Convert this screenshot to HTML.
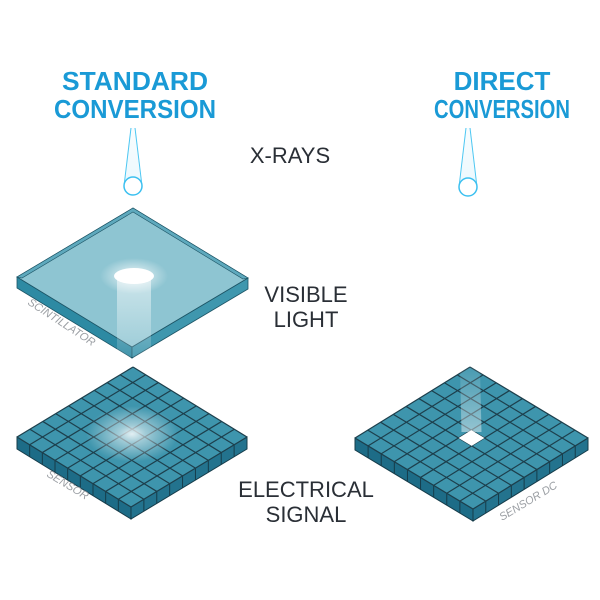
<!DOCTYPE html>
<html><head><style>
body{margin:0;background:#fff;width:600px;height:600px;overflow:hidden}
svg{display:block}
</style></head><body>
<svg id="s" width="600" height="600" xmlns="http://www.w3.org/2000/svg" font-family="Liberation Sans, sans-serif">
<defs>
<radialGradient id="glow" cx="0.5" cy="0.5" r="0.5">
<stop offset="0" stop-color="#fff" stop-opacity="1"/>
<stop offset="0.3" stop-color="#fff" stop-opacity="0.6"/>
<stop offset="1" stop-color="#fff" stop-opacity="0"/>
</radialGradient>
<linearGradient id="col" x1="0" y1="0" x2="0" y2="1">
<stop offset="0" stop-color="#fff" stop-opacity="0.55"/>
<stop offset="1" stop-color="#fff" stop-opacity="0.1"/>
</linearGradient>
<linearGradient id="col2" x1="0" y1="0" x2="0" y2="1">
<stop offset="0" stop-color="#fff" stop-opacity="0.05"/>
<stop offset="1" stop-color="#fff" stop-opacity="0.45"/>
</linearGradient>
<linearGradient id="cone" x1="0" y1="0" x2="0" y2="1">
<stop offset="0" stop-color="#bfe9fb" stop-opacity="0.3"/>
<stop offset="1" stop-color="#bfe9fb" stop-opacity="0.9"/>
</linearGradient>
</defs>
<g font-weight="bold" fill="#1a9ad6" font-size="26" text-anchor="middle">
<text x="135" y="90" textLength="146" lengthAdjust="spacingAndGlyphs">STANDARD</text>
<text x="135" y="118" textLength="162" lengthAdjust="spacingAndGlyphs">CONVERSION</text>
<text x="502" y="90">DIRECT</text>
<text x="502" y="118" textLength="136" lengthAdjust="spacingAndGlyphs">CONVERSION</text>
</g>
<g fill="#2a2f36" font-size="22" text-anchor="middle">
<text x="290" y="163">X-RAYS</text>
<text x="306" y="302">VISIBLE</text>
<text x="306" y="327">LIGHT</text>
<text x="306" y="497">ELECTRICAL</text>
<text x="306" y="522">SIGNAL</text>
</g>
<g id="cones"></g>
<g id="scint"></g>
<g id="sens"></g>
</svg>
<script>
const NS="http://www.w3.org/2000/svg";
function el(p,t,a){const e=document.createElementNS(NS,t);for(const k in a)e.setAttribute(k,a[k]);p.appendChild(e);return e;}
const cones=document.getElementById('cones');
[[133,186],[468,187]].forEach(([x,y])=>{
 el(cones,'polygon',{points:`${x-3},128 ${x+3},128 ${x+9},${y} ${x-9},${y}`,fill:'url(#cone)',opacity:0.35});
 el(cones,'line',{x1:x-2,y1:128,x2:x-9,y2:y,stroke:'#4cc7f2','stroke-width':1});
 el(cones,'line',{x1:x+2,y1:128,x2:x+9,y2:y,stroke:'#4cc7f2','stroke-width':1});
 el(cones,'circle',{cx:x,cy:y,r:9,fill:'#fff',stroke:'#3cc0f0','stroke-width':1.5});
});
function P(a){return a.map(p=>p.join(',')).join(' ');}
function add(p,q){return [p[0]+q[0],p[1]+q[1]];}
const sc=document.getElementById('scint');
{const T=[133,208],R=[248,278],L=[17,277],B=[132,347],h=11,H=[0,h];
 el(sc,'polygon',{points:P([L,B,add(B,H),add(L,H)]),fill:'#2d8aa3',stroke:'#1d5566','stroke-width':0.8});
 el(sc,'polygon',{points:P([B,R,add(R,H),add(B,H)]),fill:'#3f97ae',stroke:'#1d5566','stroke-width':0.8});
 el(sc,'polygon',{points:P([T,R,B,L]),fill:'#8ec5d2',stroke:'#1d5566','stroke-width':0.8});
 el(sc,'polygon',{points:P([T,R,[R[0]-5,R[1]+1],[T[0],T[1]+4],[L[0]+5,L[1]+1],L]),fill:'#5ea9bd',stroke:'#1d5566','stroke-width':0.6});
 el(sc,'rect',{x:117,y:277,width:34,height:80,fill:'url(#col)'});
 el(sc,'ellipse',{cx:134,cy:276,rx:34,ry:18,fill:'url(#glow)'});
 el(sc,'ellipse',{cx:134,cy:276,rx:20,ry:8,fill:'#fff'});
 const t=el(sc,'text',{x:0,y:0,'font-size':11,fill:'#9a9ea3','font-style':'italic',transform:'translate(27,304) rotate(33)'});t.textContent='SCINTILLATOR';
}
const se=document.getElementById('sens');
function sensor(T,u,v,h,label,lt,direct){
 const n=9,H=[0,h];
 const R=add(T,u),L=add(T,v),B=add(R,v);
 const pt=(i,j)=>[T[0]+u[0]*i/n+v[0]*j/n,T[1]+u[1]*i/n+v[1]*j/n];
 el(se,'polygon',{points:P([L,B,add(B,H),add(L,H)]),fill:'#1d6c87',stroke:'#163c4a','stroke-width':1});
 el(se,'polygon',{points:P([B,R,add(R,H),add(B,H)]),fill:'#23738e',stroke:'#163c4a','stroke-width':1});
 for(let k=1;k<n;k++){let a=pt(k,n),b=pt(n,k);
  el(se,'line',{x1:a[0],y1:a[1],x2:a[0],y2:a[1]+h,stroke:'#163c4a','stroke-width':1});
  el(se,'line',{x1:b[0],y1:b[1],x2:b[0],y2:b[1]+h,stroke:'#163c4a','stroke-width':1});}
 el(se,'polygon',{points:P([T,R,B,L]),fill:'#3e95ad'});
 const c=pt(4.5,4.5);
 for(let k=0;k<=n;k++){let a=pt(k,0),b=pt(k,n),d=pt(0,k),e=pt(n,k);
  el(se,'line',{x1:a[0],y1:a[1],x2:b[0],y2:b[1],stroke:'#1d3f4c','stroke-width':1.2});
  el(se,'line',{x1:d[0],y1:d[1],x2:e[0],y2:e[1],stroke:'#1d3f4c','stroke-width':1.2});}
 if(!direct){el(se,'ellipse',{cx:c[0],cy:c[1]-3,rx:46,ry:28,fill:'url(#glow)',opacity:0.85});}
 else{el(se,'polygon',{points:P([[T[0]-10,T[1]],[T[0]+10,T[1]],[c[0]+10,c[1]-6],[c[0]-10,c[1]-6]]),fill:'url(#col2)'});
  el(se,'polygon',{points:P([pt(4,4),pt(5,4),pt(5,5),pt(4,5)]),fill:'#fff'});}
 const t=el(se,'text',{x:0,y:0,'font-size':11,fill:'#9a9ea3','font-style':'italic',transform:lt});t.textContent=label;
}
sensor([133,367],[114,70],[-116,70],12,'SENSOR','translate(46,476) rotate(31)',false);
sensor([470,367],[118,71],[-115,71],12,'SENSOR DC','translate(502,521) rotate(-31)',true);
</script>
</body></html>
